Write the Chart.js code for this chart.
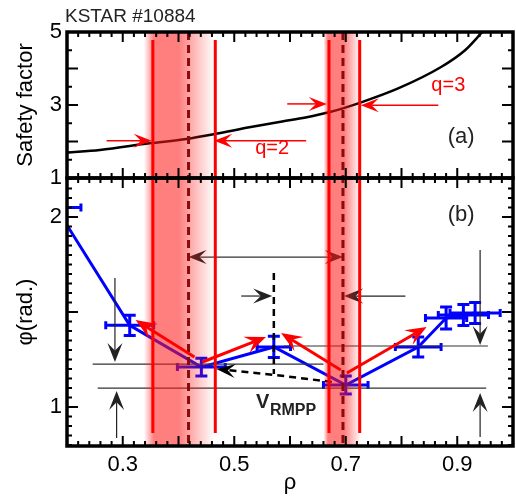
<!DOCTYPE html>
<html>
<head>
<meta charset="utf-8">
<script src="https://cdn.jsdelivr.net/npm/chart.js@4.4.1/dist/chart.umd.min.js"></script>
<style>
  html, body { margin: 0; padding: 0; background: #fff; }
</style>
</head>
<body>
<canvas id="c" width="516" height="499"></canvas>
<script>
const FONT = "'Liberation Sans', Arial, sans-serif";

// (a) safety factor profile
const qRho = [0.2, 0.259, 0.348, 0.414, 0.467, 0.527, 0.586, 0.628, 0.670, 0.729, 0.795, 0.871, 0.914, 0.945];
const qValue = [1.70, 1.77, 1.95, 2.07, 2.21, 2.39, 2.55, 2.66, 2.80, 3.08, 3.46, 4.04, 4.50, 5.0];

// (b) phase profile with error bars
const phiRho = [0.18, 0.3125, 0.441, 0.571, 0.700, 0.830, 0.880, 0.911, 0.932];
const phiValue = [2.05, 1.43, 1.21, 1.316, 1.116, 1.316, 1.468, 1.484, 1.495];
const phiRhoErr = [0.045, 0.043, 0.043, 0.03, 0.04, 0.041, 0.037, 0.045, 0.045];
const phiErr = [0.05, 0.053, 0.047, 0.056, 0.047, 0.053, 0.058, 0.055, 0.055];

const xTicks = [0.3, 0.5, 0.7, 0.9];
const qTicks = [1, 3, 5];
const phiTicks = [1, 2];

// q=2 / q=3 surfaces and shaded island regions
const surfRho = [0.418, 0.695];
const bandFrom = [0.338, 0.660];
const bandPeakFrom = [0.356, 0.668];
const bandPeakTo = [0.400, 0.697];
const bandTo = [0.464, 0.727];
const edgeRho = [0.354, 0.466, 0.670, 0.725];
const edgeTopQ = 4.78;
const edgeBottomPhi = 0.863;

// arrows: [rho0, val0, rho1, val1]  (tip at rho1,val1)
const qArrows = [[0.271, 2.02, 0.352, 2.02], [0.629, 2.02, 0.464, 2.02], [0.595, 3.03, 0.666, 3.03], [0.866, 2.99, 0.727, 2.99]];
const phiRedArrows = [[0.4286, 1.263, 0.323, 1.458], [0.443, 1.237, 0.557, 1.368], [0.691, 1.195, 0.584, 1.389], [0.702, 1.179, 0.845, 1.421]];
const phiBlackArrows = [[0.5125, 1.584, 0.568, 1.584], [0.807, 1.584, 0.697, 1.584],
  [0.286, 1.679, 0.286, 1.237], [0.289, 0.837, 0.289, 1.085], [0.941, 1.826, 0.941, 1.326], [0.941, 0.842, 0.941, 1.074]];
const spanArrow = [0.418, 0.695, 1.789];
// level lines: [rho0, rho1, phi]
const levelLines = [[0.246, 0.66, 1.226], [0.589, 0.955, 1.321], [0.255, 0.952, 1.10]];
const markRho = 0.571, markTop = 1.705, markBottom = 1.174;
const shiftPath = [[0.675, 1.132], [0.575, 1.168], [0.468, 1.20]];

function drawArrow(ctx, x0, y0, x1, y1, o) {
  const ang = Math.atan2(y1 - y0, x1 - x0);
  const back = o.len * 0.6;
  ctx.save();
  ctx.strokeStyle = o.color;
  ctx.lineWidth = o.width;
  ctx.beginPath();
  ctx.moveTo(x0, y0);
  ctx.lineTo(x1 - Math.cos(ang) * back, y1 - Math.sin(ang) * back);
  ctx.stroke();
  ctx.translate(x1, y1);
  ctx.rotate(ang);
  ctx.beginPath();
  ctx.moveTo(0, 0);
  ctx.lineTo(-o.len, -o.half);
  ctx.lineTo(-back, 0);
  ctx.lineTo(-o.len, o.half);
  ctx.closePath();
  ctx.fillStyle = o.color;
  ctx.fill();
  ctx.restore();
}

function head(ctx, x0, y0, x1, y1, o) {
  const ang = Math.atan2(y1 - y0, x1 - x0);
  ctx.save();
  ctx.translate(x1, y1);
  ctx.rotate(ang);
  ctx.beginPath();
  ctx.moveTo(0, 0);
  ctx.lineTo(-o.len, -o.half);
  ctx.lineTo(-o.len * 0.6, 0);
  ctx.lineTo(-o.len, o.half);
  ctx.closePath();
  ctx.fillStyle = o.color;
  ctx.fill();
  ctx.restore();
}

const figurePlugin = {
  id: 'figure',
  afterDatasetsDraw(chart) {
    const ctx = chart.ctx;
    const xs = chart.scales.x, yq = chart.scales.yq, yp = chart.scales.yphi;
    const X = v => xs.getPixelForValue(v);
    const Q = v => yq.getPixelForValue(v);
    const P = v => yp.getPixelForValue(v);
    const L = chart.chartArea.left, R = chart.chartArea.right;
    const T = yq.top, M = yq.bottom, B = yp.bottom;

    // error bars
    ctx.save();
    ctx.beginPath();
    ctx.rect(L, M, R - L, B - M);
    ctx.clip();
    ctx.strokeStyle = '#0000ff';
    ctx.lineWidth = 3;
    phiRho.forEach((r, i) => {
      const cx = X(r), cy = P(phiValue[i]);
      const xl = X(r - phiRhoErr[i]), xr = X(r + phiRhoErr[i]);
      const yt = P(phiValue[i] + phiErr[i]), yb = P(phiValue[i] - phiErr[i]);
      ctx.beginPath();
      ctx.moveTo(xl, cy); ctx.lineTo(xr, cy);
      ctx.moveTo(cx, yt); ctx.lineTo(cx, yb);
      ctx.moveTo(cx - 6, yt); ctx.lineTo(cx + 6, yt);
      ctx.moveTo(cx - 6, yb); ctx.lineTo(cx + 6, yb);
      ctx.moveTo(xl, cy - 4); ctx.lineTo(xl, cy + 4);
      ctx.moveTo(xr, cy - 4); ctx.lineTo(xr, cy + 4);
      ctx.stroke();
    });
    ctx.restore();

    // black annotations in (b)
    ctx.save();
    ctx.strokeStyle = '#333';
    ctx.lineWidth = 1.2;
    levelLines.forEach(l => {
      ctx.beginPath();
      ctx.moveTo(X(l[0]), P(l[2]));
      ctx.lineTo(X(l[1]), P(l[2]));
      ctx.stroke();
    });
    ctx.restore();
    phiBlackArrows.forEach(a => {
      drawArrow(ctx, X(a[0]), P(a[1]), X(a[2]), P(a[3]), {color: '#222', width: 1.2, len: 19, half: 7.5});
    });
    ctx.save();
    ctx.strokeStyle = '#333';
    ctx.lineWidth = 1.2;
    ctx.beginPath();
    ctx.moveTo(X(spanArrow[0]) + 10, P(spanArrow[2]));
    ctx.lineTo(X(spanArrow[1]) - 10, P(spanArrow[2]));
    ctx.stroke();
    ctx.restore();
    head(ctx, X(spanArrow[1]), P(spanArrow[2]), X(spanArrow[0]), P(spanArrow[2]), {color: '#222', len: 18, half: 7});
    head(ctx, X(spanArrow[0]), P(spanArrow[2]), X(spanArrow[1]), P(spanArrow[2]), {color: '#222', len: 18, half: 7});

    ctx.save();
    ctx.strokeStyle = '#000';
    ctx.lineWidth = 2.5;
    ctx.setLineDash([7, 5]);
    ctx.beginPath();
    ctx.moveTo(X(markRho), P(markTop));
    ctx.lineTo(X(markRho), P(markBottom));
    ctx.stroke();
    ctx.beginPath();
    shiftPath.forEach((p, i) => {
      const px = X(p[0]), py = P(p[1]);
      if (i === 0) ctx.moveTo(px, py); else if (i === shiftPath.length - 1) {
        const q0 = shiftPath[i - 1];
        const ang = Math.atan2(py - P(q0[1]), px - X(q0[0]));
        ctx.lineTo(px - Math.cos(ang) * 11, py - Math.sin(ang) * 11);
      } else ctx.lineTo(px, py);
    });
    ctx.stroke();
    ctx.restore();
    const n = shiftPath.length;
    head(ctx, X(shiftPath[n - 2][0]), P(shiftPath[n - 2][1]), X(shiftPath[n - 1][0]), P(shiftPath[n - 1][1]), {color: '#000', len: 19, half: 7});

    // shaded bands
    ctx.save();
    ctx.beginPath();
    ctx.rect(L, T, R - L, B - T);
    ctx.clip();
    for (let i = 0; i < bandFrom.length; i++) {
      const x0 = X(bandFrom[i]), x1 = X(bandTo[i]);
      const g = ctx.createLinearGradient(x0, 0, x1, 0);
      g.addColorStop(0, 'rgba(255,25,25,0)');
      g.addColorStop((X(bandPeakFrom[i]) - x0) / (x1 - x0), 'rgba(255,25,25,0.56)');
      g.addColorStop((X(bandPeakTo[i]) - x0) / (x1 - x0), 'rgba(255,25,25,0.56)');
      g.addColorStop(1, 'rgba(255,25,25,0)');
      ctx.fillStyle = g;
      ctx.fillRect(x0, T, x1 - x0, B - T);
    }
    ctx.restore();

    // island edges and rational surfaces
    ctx.save();
    ctx.strokeStyle = '#ff0000';
    ctx.lineWidth = 3;
    edgeRho.forEach(r => {
      ctx.beginPath();
      ctx.moveTo(X(r), Q(edgeTopQ));
      ctx.lineTo(X(r), P(edgeBottomPhi));
      ctx.stroke();
    });
    ctx.strokeStyle = '#8b0a0a';
    ctx.lineWidth = 3;
    ctx.setLineDash([8, 5]);
    surfRho.forEach(r => {
      ctx.beginPath();
      ctx.moveTo(X(r), T);
      ctx.lineTo(X(r), B);
      ctx.stroke();
    });
    ctx.restore();

    qArrows.forEach(a => {
      drawArrow(ctx, X(a[0]), Q(a[1]), X(a[2]), Q(a[3]), {color: '#ff0000', width: 1.5, len: 18, half: 7});
    });
    phiRedArrows.forEach(a => {
      drawArrow(ctx, X(a[0]), P(a[1]), X(a[2]), P(a[3]), {color: '#ff0000', width: 3, len: 21, half: 8.5});
    });

    // frame and inward ticks
    ctx.save();
    ctx.strokeStyle = '#000';
    ctx.lineWidth = 2;
    const panels = [[T, M, yq, 1, 5, 0.5, 2], [M, B, yp, 0.8, 2.2, 0.05, 10]];
    panels.forEach(pn => {
      const [top, bot, sc, lo, hi, step, every] = pn;
      ctx.beginPath();
      for (let k = 0; k <= 40; k++) {
        const v = 0.2 + k * 0.02;
        const len = k % 5 === 0 ? 10 : 5;
        const px = X(v);
        ctx.moveTo(px, top); ctx.lineTo(px, top + len);
        ctx.moveTo(px, bot); ctx.lineTo(px, bot - len);
      }
      const k0 = Math.ceil(lo / step - 1e-6), k1 = Math.floor(hi / step + 1e-6);
      for (let k = k0; k <= k1; k++) {
        const py = sc.getPixelForValue(k * step);
        if (py < top - 0.5 || py > bot + 0.5) continue;
        const len = k % every === 0 ? 11 : 5;
        ctx.moveTo(L, py); ctx.lineTo(L + len, py);
        ctx.moveTo(R, py); ctx.lineTo(R - len, py);
      }
      ctx.stroke();
    });
    ctx.lineWidth = 3.5;
    ctx.strokeRect(L, T, R - L, M - T);
    ctx.strokeRect(L, M, R - L, B - M);
    ctx.restore();

    // texts
    ctx.save();
    ctx.textBaseline = 'middle';
    ctx.textAlign = 'center';
    ctx.fillStyle = '#ff0000';
    ctx.font = '20px ' + FONT;
    ctx.fillText('q=2', X(0.568), Q(1.80));
    ctx.fillText('q=3', X(0.884), Q(3.54));
    ctx.fillStyle = '#222';
    ctx.font = '22px ' + FONT;
    ctx.fillText('(a)', X(0.907), Q(2.13));
    ctx.fillText('(b)', X(0.907), P(2.01));
    ctx.textAlign = 'left';
    ctx.textBaseline = 'alphabetic';
    ctx.font = 'bold 20px ' + FONT;
    ctx.fillText('V', X(0.539), P(0.995));
    ctx.font = 'bold 16px ' + FONT;
    ctx.fillText('RMPP', X(0.564), P(0.958));
    ctx.font = '19px ' + FONT;
    ctx.fillText('KSTAR #10884', 65, 22);
    ctx.restore();
  }
};

const tickFont = {family: FONT, size: 22};

new Chart(document.getElementById('c'), {
  type: 'line',
  data: {
    datasets: [
      {
        label: 'q',
        data: qRho.map((r, i) => ({x: r, y: qValue[i]})),
        yAxisID: 'yq',
        borderColor: '#000',
        borderWidth: 2.5,
        pointRadius: 0,
        cubicInterpolationMode: 'monotone'
      },
      {
        label: 'phi',
        data: phiRho.map((r, i) => ({x: r, y: phiValue[i]})),
        yAxisID: 'yphi',
        borderColor: '#0000ff',
        borderWidth: 3,
        pointRadius: 0,
        tension: 0
      }
    ]
  },
  options: {
    responsive: false,
    animation: false,
    devicePixelRatio: 1,
    layout: {padding: {top: 32, right: 3, left: 0, bottom: 0}},
    plugins: {legend: {display: false}, tooltip: {enabled: false}},
    scales: {
      x: {
        type: 'linear', position: 'bottom', min: 0.2, max: 1.0,
        grid: {display: false, drawTicks: false},
        border: {display: false},
        afterBuildTicks: s => { s.ticks = xTicks.map(v => ({value: v})); },
        afterFit: s => { s.height = 53; },
        ticks: {font: tickFont, color: '#000', padding: 6, maxRotation: 0, autoSkip: false, callback: v => v.toFixed(1)},
        title: {display: true, text: 'ρ', font: tickFont, color: '#000', padding: {top: 0, bottom: 3}}
      },
      yphi: {
        type: 'linear', position: 'left', stack: 'panels', stackWeight: 268, weight: 0,
        min: 0.795, max: 2.205,
        grid: {display: false, drawTicks: false},
        border: {display: false},
        afterBuildTicks: s => { s.ticks = phiTicks.map(v => ({value: v})); },
        afterFit: s => { s.width = 67; },
        ticks: {font: tickFont, color: '#000', padding: 5, autoSkip: false, callback: v => String(v)},
        title: {display: true, text: 'φ(rad.)', font: tickFont, color: '#000', padding: {top: 13, bottom: 0}}
      },
      yq: {
        type: 'linear', position: 'left', stack: 'panels', stackWeight: 146, weight: 1,
        min: 1, max: 5,
        grid: {display: false, drawTicks: false},
        border: {display: false},
        afterBuildTicks: s => { s.ticks = qTicks.map(v => ({value: v})); },
        afterFit: s => { s.width = 67; },
        ticks: {font: tickFont, color: '#000', padding: 5, autoSkip: false, callback: v => String(v)},
        title: {display: true, text: 'Safety factor', font: tickFont, color: '#000', padding: {top: 13, bottom: 0}}
      }
    }
  },
  plugins: [figurePlugin]
});
</script>
</body>
</html>
